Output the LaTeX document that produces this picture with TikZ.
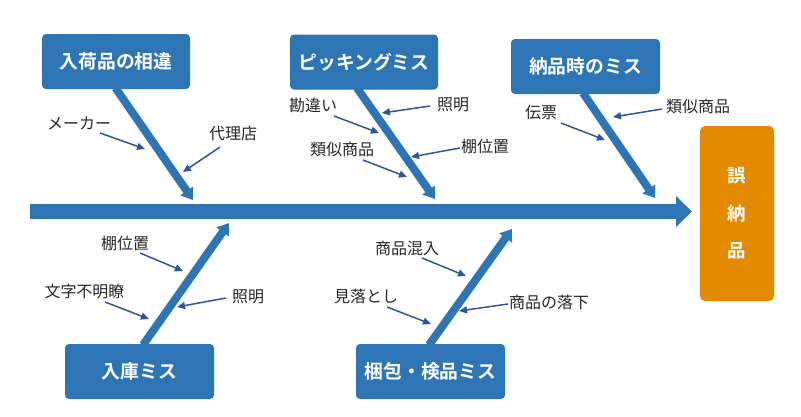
\documentclass[tikz,border=0pt]{standalone}
\usepackage{fontspec}
\setmainfont{Noto Sans CJK JP}[BoldFont={Noto Sans CJK JP Bold}]
\usetikzlibrary{arrows.meta}
\definecolor{boxblue}{HTML}{2E75B6}
\definecolor{orng}{HTML}{E38A00}
\definecolor{arr}{HTML}{2F5597}
\definecolor{txt}{HTML}{262626}
\tikzset{
  cat/.style={fill=boxblue, rounded corners=4pt, minimum width=148pt, minimum height=55pt, inner sep=0pt, text=white, font=\fontsize{18.8}{20}\selectfont\bfseries},
  lbl/.style={text=txt, inner sep=0pt, font=\fontsize{16}{18}\selectfont},
  bone/.style={draw=boxblue, line width=8pt, -{Triangle[length=11pt,width=15pt]}},
  spine/.style={draw=boxblue, line width=15pt, -{Triangle[length=16pt,width=30pt]}},
  small/.style={draw=arr, line width=1.5pt, -{Triangle[length=8pt,width=7pt]}},
}
\begin{document}
\begin{tikzpicture}[x=1pt,y=-1pt]
\useasboundingbox (0,0) rectangle (801,416);
% spine
\coordinate (sL) at (30,211.5);
\coordinate (sR) at (692,211.5);
\draw[spine] (sL) -- (sR);
% effect
\node[fill=orng, rounded corners=5pt, minimum width=74pt, minimum height=175pt, inner sep=0pt] (eff) at (737,213.5) {};
\node[text=white, align=center, inner sep=0pt, font=\fontsize{18.5}{37.5}\selectfont\bfseries] (efft) at (eff.center) {誤\\納\\品};
% category boxes
\node[cat] (c1) at (116,61.5) {入荷品の相違};
\node[cat] (c2) at (364,62) {ピッキングミス};
\node[cat, minimum width=149pt] (c3) at (585.5,66.5) {納品時のミス};
\node[cat, minimum width=149pt] (c4) at (139.5,371.5) {入庫ミス};
\node[cat, minimum width=149pt] (c5) at (430.5,371.5) {梱包・検品ミス};
% bones
\coordinate (b1s) at (115.5,88);
\coordinate (b1e) at (193,200);
\coordinate (b2s) at (357,88);
\coordinate (b2e) at (435,199);
\coordinate (b3s) at (583,93);
\coordinate (b3e) at (655,198);
\coordinate (b4s) at (143,345);
\coordinate (b4e) at (229,223);
\coordinate (b5s) at (429,345);
\coordinate (b5e) at (512,229);
\draw[bone] (b1s) -- (b1e);
\draw[bone] (b2s) -- (b2e);
\draw[bone] (b3s) -- (b3e);
\draw[bone] (b4s) -- (b4e);
\draw[bone] (b5s) -- (b5e);
% labels
\node[lbl] (l1) at (79,123) {メーカー};
\node[lbl] (l2) at (233,133) {代理店};
\node[lbl] (l3) at (313,105) {勘違い};
\node[lbl] (l4) at (453,105) {照明};
\node[lbl] (l5) at (342,149) {類似商品};
\node[lbl] (l6) at (485,146) {棚位置};
\node[lbl] (l7) at (541,112) {伝票};
\node[lbl] (l8) at (698,106) {類似商品};
\node[lbl] (l9) at (125,243) {棚位置};
\node[lbl] (l10) at (84.5,291) {文字不明瞭};
\node[lbl] (l11) at (248,297) {照明};
\node[lbl] (l12) at (407,248) {商品混入};
\node[lbl] (l13) at (366,296) {見落とし};
\node[lbl] (l14) at (549,302) {商品の落下};
% small arrows
\coordinate (a1s) at (100,133);  \coordinate (a1e) at (145,149);
\coordinate (a2s) at (220,147);  \coordinate (a2e) at (183,172);
\coordinate (a3s) at (334,116);  \coordinate (a3e) at (379,133);
\coordinate (a4s) at (430,106);  \coordinate (a4e) at (382,113);
\coordinate (a5s) at (363,160);  \coordinate (a5e) at (407,177);
\coordinate (a6s) at (460,148);  \coordinate (a6e) at (411,157);
\coordinate (a7s) at (561,123);  \coordinate (a7e) at (605,140);
\coordinate (a8s) at (662,109);  \coordinate (a8e) at (613,117);
\coordinate (a9s) at (140,253);  \coordinate (a9e) at (183,271);
\coordinate (a10s) at (105,302); \coordinate (a10e) at (149,319);
\coordinate (a11s) at (226,298); \coordinate (a11e) at (177,307);
\coordinate (a12s) at (422,258); \coordinate (a12e) at (466,276);
\coordinate (a13s) at (387,307); \coordinate (a13e) at (431,324);
\coordinate (a14s) at (508,304); \coordinate (a14e) at (459,311);
\foreach \i in {1,...,14} {\draw[small] (a\i s) -- (a\i e);}
\end{tikzpicture}
\end{document}
